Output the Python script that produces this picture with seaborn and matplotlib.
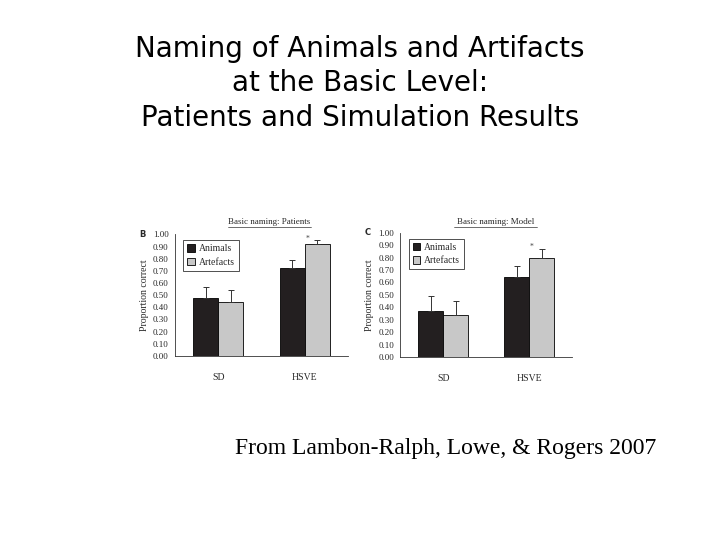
import pandas as pd
import matplotlib.pyplot as plt
import seaborn as sns

# data
grupos = ['SD', 'HSVE']
classes = ['Animals', 'Artefacts']
pacientes = {'Animals': [0.48, 0.72], 'Artefacts': [0.44, 0.92]}
pacientes_erro = {'Animals': [0.09, 0.07], 'Artefacts': [0.10, 0.03]}
modelo = {'Animals': [0.37, 0.64], 'Artefacts': [0.34, 0.80]}
modelo_erro = {'Animals': [0.12, 0.09], 'Artefacts': [0.11, 0.07]}
yticks = [0.0, 0.1, 0.2, 0.3, 0.4, 0.5, 0.6, 0.7, 0.8, 0.9, 1.0]

cores = ['#231f20', '#c8c8c8']
serif = 'Liberation Serif'
cinza = '#2a2a2a'


def tabela(valores):
    linhas = []
    for c in classes:
        for g, v in zip(grupos, valores[c]):
            linhas.append({'grupo': g, 'classe': c, 'valor': v})
    return pd.DataFrame(linhas)


def painel(fig, pos, valores, erros, titulo, letra, linha_y, tit_x):
    ax = fig.add_axes(pos)
    df = tabela(valores)
    sns.barplot(data=df, x='grupo', y='valor', hue='classe', order=grupos,
                hue_order=classes, palette=cores, width=0.58, errorbar=None,
                edgecolor='black', linewidth=0.6, saturation=1, ax=ax)

    # one-sided error bars on top of each bar
    for cont, c in zip(ax.containers, classes):
        xs = [p.get_x() + p.get_width() / 2 for p in cont]
        ys = [p.get_height() for p in cont]
        ax.errorbar(xs, ys, yerr=[[0] * len(ys), erros[c]], fmt='none',
                    ecolor='#333333', elinewidth=0.7, capsize=2.5, capthick=0.7)

    # asterisk over HSVE artefacts
    p = ax.containers[1][1]
    ax.text(p.get_x() + p.get_width() * 0.1, p.get_height() + erros['Artefacts'][1] - 0.02,
            '*', fontsize=5.5, family=serif, ha='center', va='bottom', color='#444444')

    ax.set_xlim(-0.5, 1.5)
    ax.set_ylim(0, 1.0)
    ax.set_yticks(yticks)
    ax.set_yticklabels([f'{t:.2f}' for t in yticks], fontsize=6.5, family=serif, color=cinza)
    ax.set_xticks([0, 1])
    ax.set_xticklabels(grupos, fontsize=7, family=serif, color=cinza)
    ax.set_xticks([0.5, 1.5], minor=True)
    ax.tick_params(axis='x', which='major', length=0, pad=12)
    ax.tick_params(axis='x', which='minor', length=3, width=0.6, direction='out')
    ax.tick_params(axis='y', length=2.5, width=0.6, pad=2)
    ax.set_xlabel('')
    ax.set_ylabel('Proportion correct', fontsize=7, family=serif, color=cinza, labelpad=3)
    ax.spines[['top', 'right']].set_visible(False)
    for s in ['left', 'bottom']:
        ax.spines[s].set_linewidth(0.6)
        ax.spines[s].set_color('#333333')

    leg = ax.legend(loc='upper left', bbox_to_anchor=(0.02, 0.99), frameon=True,
                    fancybox=False, edgecolor='#333333', framealpha=1,
                    handlelength=0.8, handleheight=0.8, handletextpad=0.4,
                    borderpad=0.4, labelspacing=0.45, prop={'family': serif, 'size': 7})
    leg.get_frame().set_linewidth(0.6)
    for t in leg.get_texts():
        t.set_color(cinza)

    ax.text(tit_x, linha_y + 0.01, titulo, transform=ax.transAxes, fontsize=6.5,
            family=serif, ha='center', va='bottom', color=cinza)
    ax.plot([tit_x - 0.24, tit_x + 0.24], [linha_y, linha_y], transform=ax.transAxes,
            color='#333333', lw=0.5, clip_on=False)
    ax.text(-0.19, 1.0, letra, transform=ax.transAxes, fontsize=6, fontweight='bold',
            ha='center', va='center', color=cinza)
    return ax


sns.set_style('white')
fig = plt.figure(figsize=(7.2, 5.4), dpi=100)

painel(fig, [0.243, 0.341, 0.240, 0.225], pacientes, pacientes_erro,
       'Basic naming: Patients', 'B', 1.058, 0.546)
painel(fig, [0.556, 0.339, 0.239, 0.230], modelo, modelo_erro,
       'Basic naming: Model', 'C', 1.048, 0.552)

fig.text(0.5, 0.846, 'Naming of Animals and Artifacts\nat the Basic Level:\nPatients and Simulation Results',
         ha='center', va='center', fontsize=20, family='DejaVu Sans', linespacing=1.3,
         color='black')
fig.text(0.619, 0.170, 'From Lambon-Ralph, Lowe, & Rogers 2007', ha='center', va='center',
         fontsize=17, family=serif, color='black')

plt.savefig('out.png', dpi=100)
plt.close()
